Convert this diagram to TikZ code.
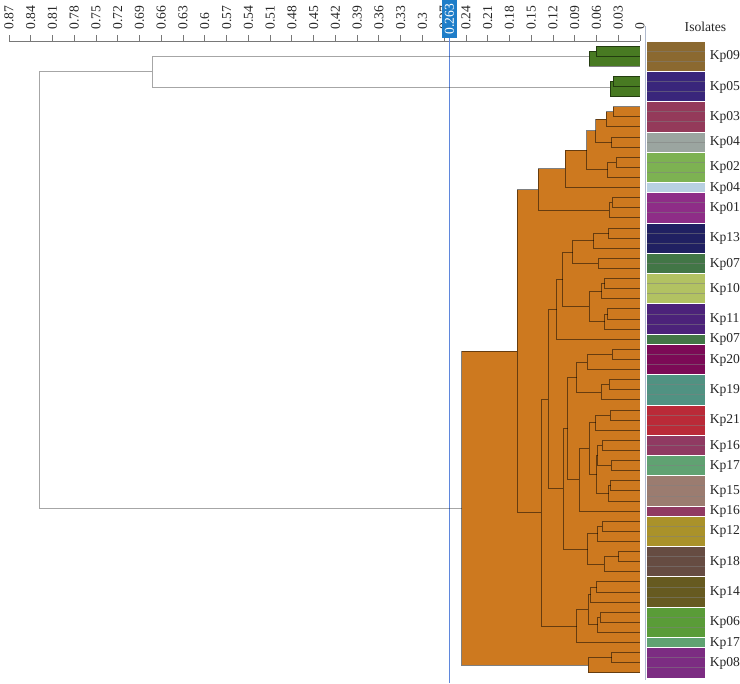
\documentclass[tikz,border=0pt]{standalone}
\usepackage{fontspec}
\setmainfont{Liberation Serif}
\usetikzlibrary{calc}
\definecolor{ofill}{RGB}{205,121,31}
\definecolor{gfill}{RGB}{72,122,34}
\definecolor{hl}{RGB}{30,125,200}
\definecolor{cutblue}{RGB}{95,135,220}
\definecolor{axc}{RGB}{120,120,120}
\definecolor{sepc}{RGB}{175,185,205}
\definecolor{c09}{RGB}{139,105,48}
\definecolor{c05}{RGB}{57,38,123}
\definecolor{c03}{RGB}{148,58,90}
\definecolor{c04a}{RGB}{155,165,160}
\definecolor{c02}{RGB}{125,178,82}
\definecolor{c04b}{RGB}{184,208,225}
\definecolor{c01}{RGB}{142,45,135}
\definecolor{c13}{RGB}{32,32,98}
\definecolor{c07}{RGB}{66,118,70}
\definecolor{c10}{RGB}{178,194,98}
\definecolor{c11}{RGB}{76,34,122}
\definecolor{c20}{RGB}{124,10,86}
\definecolor{c19}{RGB}{80,146,130}
\definecolor{c21}{RGB}{186,42,56}
\definecolor{c16}{RGB}{144,58,98}
\definecolor{c17}{RGB}{96,162,114}
\definecolor{c15}{RGB}{155,124,112}
\definecolor{c12}{RGB}{170,146,42}
\definecolor{c18}{RGB}{102,76,66}
\definecolor{c14}{RGB}{102,90,32}
\definecolor{c06}{RGB}{90,156,56}
\definecolor{c08}{RGB}{124,44,130}
\newcommand\mknode[4]{\path let \p1=(#3), \p2=(#4) in coordinate (#1) at ({#2*0.75pt},{0.5*(\y1+\y2)});}
\newcommand\clade[4]{}
\newcommand\greentree{%
\clade{g9a}{596.3}{L0}{L1}\clade{G9}{589}{g9a}{L2}%
\clade{g5a}{613}{L3}{L4}\clade{G5}{610}{g5a}{L5}}
\newcommand\orangetree{%
\clade{nI}{613.3}{L6}{L7}\clade{nH}{606}{nI}{L8}\clade{nJ}{611.7}{L9}{L10}\clade{nG}{595.7}{nH}{nJ}%
\clade{nL}{616}{L11}{L12}\clade{nK}{607.7}{nL}{L13}\clade{nF}{586.5}{nG}{nK}\clade{nE}{565}{nF}{L14}%
\clade{nN}{612.3}{L15}{L16}\clade{nM}{609}{nN}{L17}\clade{nD}{538.3}{nE}{nM}%
\clade{nV}{608.7}{L18}{L19}\clade{nU}{593.7}{nV}{L20}\clade{nW}{598.3}{L21}{L22}\clade{nT}{572.5}{nU}{nW}%
\clade{nZa}{604.5}{L23}{L24}\clade{nY}{601.5}{nZa}{L25}\clade{nZb}{607.7}{L26}{L27}\clade{nYb}{604.5}{nZb}{L28}%
\clade{nX}{589.2}{nY}{nYb}\clade{nS}{562.5}{nT}{nX}\clade{nR}{556.7}{nS}{L29}%
\clade{kta}{612.3}{L30}{L31}\clade{kt}{587.3}{kta}{L32}\clade{kna}{609}{L33}{L34}\clade{kn}{601}{kna}{L35}%
\clade{qd}{576.5}{kt}{kn}%
\clade{kua}{610.3}{L36}{L37}\clade{ku}{595.7}{kua}{L38}\clade{ksa}{602.3}{L39}{L40}\clade{kva}{611.3}{L41}{L42}%
\clade{qga}{597.7}{ksa}{kva}\clade{kfa}{610.7}{L43}{L44}\clade{kf}{608.5}{kfa}{L45}\clade{qg}{596.5}{qga}{kf}%
\clade{qf}{589}{ku}{qg}\clade{qe}{579.3}{qf}{L46}\clade{qc}{567.7}{qd}{qe}%
\clade{kla}{602.3}{L47}{L48}\clade{kl}{597.7}{kla}{L49}\clade{kra}{618.5}{L50}{L51}\clade{kr}{604.3}{kra}{L52}%
\clade{qh}{587.7}{kl}{kr}\clade{qb}{563.3}{qc}{qh}\clade{nQ}{548.3}{nR}{qb}%
\clade{kda}{596.7}{L53}{L54}\clade{kd}{590.7}{kda}{L55}\clade{kxa}{600}{L56}{L57}\clade{kx}{597.7}{kxa}{L58}%
\clade{pc}{588}{kd}{kx}\clade{pb}{576.5}{pc}{L59}\clade{nP}{541}{nQ}{pb}\clade{nC}{517}{nD}{nP}%
\clade{kea}{611.7}{L60}{L61}\clade{ke}{588.3}{kea}{L62}\clade{nB}{461.7}{nC}{ke}}
\begin{document}
\begin{tikzpicture}[x=0.75pt,y=-0.75pt,
  tline/.style={draw=black,draw opacity=0.5,line width=0.75pt},
  rline/.style={draw=black,draw opacity=0.35,line width=0.75pt},
  lab/.style={font=\fontsize{10.2}{12}\selectfont,text=black!85,inner sep=0pt},
  axline/.style={draw=axc,line width=0.6pt},
  rowsep/.style={draw=gray,draw opacity=0.5,line width=0.6pt}]
\useasboundingbox (0,0) rectangle (740,683);
\coordinate (redge) at (640,0);
\foreach \i in {0,...,62}{\coordinate (L\i) at (640,{41+(\i+0.5)*10.111});}
% axis
\coordinate (ax0) at (9,41);
\coordinate (ax1) at (640,41);
\draw[axline] (ax0) -- (ax1);
\foreach \t [count=\q] in {0.87,0.84,0.81,0.78,0.75,0.72,0.69,0.66,0.63,0.6,0.57,0.54,0.51,0.48,0.45,0.42,0.39,0.36,0.33,0.3,0.27,0.24,0.21,0.18,0.15,0.12,0.09,0.06,0.03,0}{
  \draw[axline] ({640-\t*725.3},35) -- ({640-\t*725.3},41);
  \node[lab,rotate=90,anchor=west] (tk\q) at ({640-\t*725.3},29.5) {\t};
}
% cut line
\coordinate (cuttop) at (448.6,38);
\coordinate (cutbot) at (450.0,683);
\fill[cutblue] (cuttop) rectangle (cutbot);
\fill[hl] (441.7,0) rectangle (457.3,38);
\node[lab,text=white,rotate=90] (cut) at (449.5,19) {0.263};
% separator line
\coordinate (sv0) at (645.8,26);
\coordinate (sv1) at (645.8,680);
\draw[draw=sepc,line width=0.75pt] (sv0) -- (sv1);
% tree
\renewcommand\clade[4]{\mknode{#1}{#2}{#3}{#4}}\greentree\orangetree
\renewcommand\clade[4]{\fill[gfill] (#3 -| #1) rectangle (#4 -| redge);}\greentree
\renewcommand\clade[4]{\fill[ofill] (#3 -| #1) rectangle (#4 -| redge);}\orangetree
\renewcommand\clade[4]{\draw[tline] (#3) -- (#3 -| #1) -- (#4 -| #1) -- (#4);}\greentree\orangetree
\coordinate (G9c) at (589,56.2);
\coordinate (G5c) at (610,87);
\mknode{nA}{152}{G9c}{G5c}
\mknode{root}{39}{nA}{nB}
\draw[rline] (G9c) -- (G9c -| nA) -- (G5c -| nA) -- (G5c);
\draw[rline] (nA) -- (nA -| root) -- (nB -| root) -- (nB);
% strips
\foreach \n/\s/\k/\c in {Kp09/0/3/c09,Kp05/3/3/c05,Kp03/6/3/c03,Kp04/9/2/c04a,Kp02/11/3/c02,Kp04/14/1/c04b,Kp01/15/3/c01,Kp13/18/3/c13,Kp07/21/2/c07,Kp10/23/3/c10,Kp11/26/3/c11,Kp07/29/1/c07,Kp20/30/3/c20,Kp19/33/3/c19,Kp21/36/3/c21,Kp16/39/2/c16,Kp17/41/2/c17,Kp15/43/3/c15,Kp16/46/1/c16,Kp12/47/3/c12,Kp18/50/3/c18,Kp14/53/3/c14,Kp06/56/3/c06,Kp17/59/1/c17,Kp08/60/3/c08}{
  \fill[\c] (647,{41+\s*10.111+0.5}) rectangle (705,{41+(\s+\k)*10.111-0.5});
  \node[lab,anchor=west] (lab\s) at (709.5,{41+(\s+\k/2)*10.111+0.5}) {\n};
}
\foreach \r in {1,2,4,5,7,8,10,12,13,16,17,19,20,22,24,25,27,28,31,32,34,35,37,38,40,42,44,45,48,49,51,52,54,55,57,58,61,62}{
  \draw[rowsep] (647,{41+\r*10.111}) -- (705,{41+\r*10.111});
}
\node[lab] (iso) at (705.5,26.5) {Isolates};
\end{tikzpicture}
\end{document}
